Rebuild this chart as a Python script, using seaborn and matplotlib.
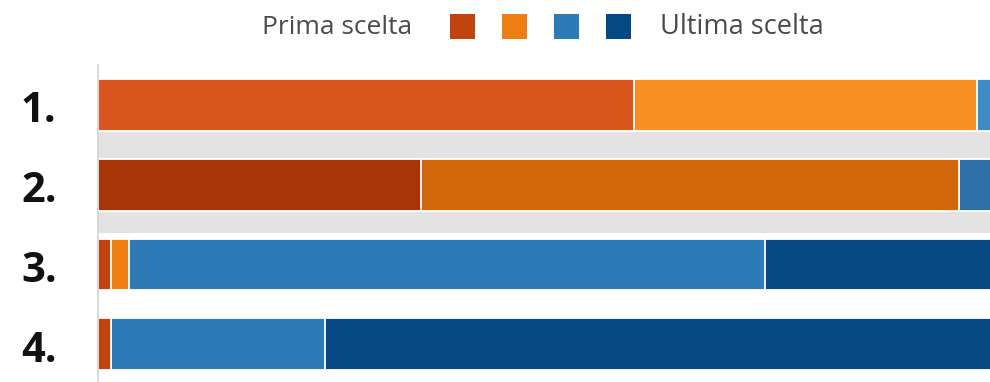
import matplotlib
matplotlib.use("Agg")
import matplotlib.pyplot as plt
import seaborn as sns
import pandas as pd

# Ranking rows and share of each choice position (percent of responses)
ranks = ["1.", "2.", "3.", "4."]
prima = [53.6, 32.3, 1.3, 1.3]
seconda = [34.3, 53.8, 1.8, 0.0]
terza = [7.6, 10.2, 63.6, 21.4]
ultima = [4.5, 3.7, 33.3, 77.3]

legend_first = "Prima scelta"
legend_last = "Ultima scelta"

# Base palette (rows 3-4 and legend); row 1 is highlighted, row 2 selected
base_colors = ["#C1440F", "#EE7E12", "#2E7AB6", "#064A85"]
row_colors = [
    ["#D9561F", "#F98E25", "#3E8CC6", "#0B4F8A"],
    ["#A83507", "#D3650A", "#2C72A8", "#073F72"],
    base_colors,
    base_colors,
]

segments = [prima, seconda, terza, ultima]

sns.set_theme(style="white")
plt.rcParams["font.family"] = ["Open Sans", "DejaVu Sans"]

fig = plt.figure(figsize=(9.9, 3.82), dpi=100)
W, H = 990, 382
ax = fig.add_axes([98 / W, 0, (990 - 98) / W, (382 - 65) / H])

# Selected-row band
ax.axhspan(0.34, 1.61, color="#E3E3E3", zorder=0, lw=0)

# Stacked bars: draw cumulative totals from the last segment back to the first
cum = []
running = [0.0] * len(ranks)
for seg in segments:
    running = [r + v for r, v in zip(running, seg)]
    cum.append(list(running))

for k in reversed(range(len(segments))):
    df = pd.DataFrame({"rank": ranks, "end": cum[k]})
    pal = {ranks[i]: row_colors[i][k] for i in range(len(ranks))}
    sns.barplot(data=df, x="end", y="rank", hue="rank", palette=pal,
                legend=False, orient="h", width=0.65, ax=ax,
                edgecolor="white", linewidth=1.3, saturation=1, zorder=2)

ax.set_xlim(0, 89.2)
ax.set_ylim(3.475, -0.502)
ax.set_xlabel("")
ax.set_ylabel("")
ax.set_xticks([])
ax.set_yticks([])
for side in ["top", "right", "bottom"]:
    ax.spines[side].set_visible(False)
ax.spines["left"].set_color("#D4D4D4")
ax.spines["left"].set_linewidth(1.2)

# Row labels
for i, lab in enumerate(ranks):
    yc = 112 + i * 79.7
    fig.text(21 / W, 1 - yc / H, lab, ha="left", va="center",
             fontsize=30, fontweight="bold", color="#111111")

# Legend: text, four colour squares, text
ly = 1 - 27 / H
fig.text(262 / W, ly, legend_first, ha="left", va="center",
         fontsize=19, color="#4A4A4A")
for j, c in enumerate(base_colors):
    x0 = 450 + j * 52
    fig.patches.append(plt.Rectangle((x0 / W, 1 - 39 / H), 25 / W, 25 / H,
                                     transform=fig.transFigure,
                                     facecolor=c, edgecolor="none"))
fig.text(660 / W, ly, legend_last, ha="left", va="center",
         fontsize=19.5, color="#4A4A4A")

fig.savefig("out.png", dpi=100, facecolor="white")
